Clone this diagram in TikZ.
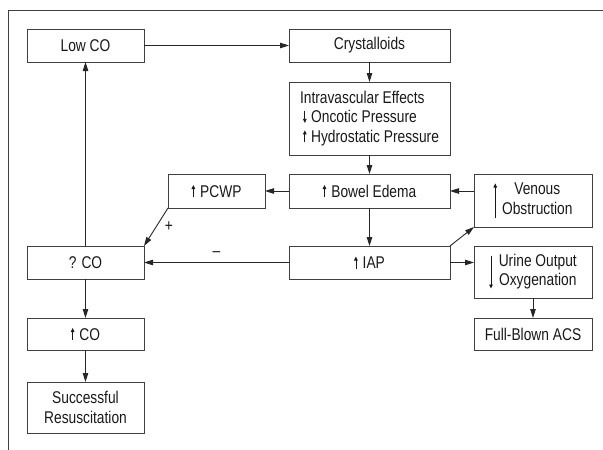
\documentclass[tikz,border=0pt]{standalone}
\usepackage{fontspec}
\setmainfont{Liberation Sans}[FakeStretch=0.81]
\usetikzlibrary{arrows.meta,positioning}

% small arrows set inside the box texts
\newcommand{\incr}{\tikz[baseline=0pt]\draw[line width=0.8pt,-{Triangle[length=4pt,width=3.6pt]}] (0,0) -- (0,12pt);}
\newcommand{\decr}{\tikz[baseline=0pt]\draw[line width=0.8pt,-{Triangle[length=4pt,width=3.6pt]}] (0,12pt) -- (0,0);}
\newcommand{\tallup}{$\vcenter{\hbox{\tikz\draw[line width=0.8pt,-{Triangle[length=4pt,width=3.6pt]}] (0,0) -- (0,34pt);}}$}
\newcommand{\talldown}{$\vcenter{\hbox{\tikz\draw[line width=0.8pt,-{Triangle[length=4pt,width=3.6pt]}] (0,33pt) -- (0,0);}}$}
\newcommand{\twolines}[1]{$\vcenter{\hbox{\begin{tabular}{@{}c@{}}#1\end{tabular}}}$}

\begin{document}
\begin{tikzpicture}[
  x=1pt, y=-1pt,
  font=\fontsize{17}{19.5}\selectfont,
  text=black!90,
  flow/.style={-{Triangle[length=9pt,width=5.5pt]}, line width=0.9pt, draw=black!85},
  box/.style={draw=black!75, line width=0.9pt, align=center,
              inner sep=0pt, outer sep=0pt, minimum height=33pt},
  leftcol/.style={box, minimum width=117pt},
  midcol/.style={box, minimum width=161pt},
  rightcol/.style={box, minimum width=118pt},
  frame/.style={draw=black!75, line width=0.9pt}
]
\useasboundingbox (0,0) rectangle (603,450);
\draw[frame] (8.3,450) -- (8.3,10.7) -- (603,10.7);

% Resuscitation start and fluid load.
\node[leftcol] (lowco) at (85.5,45.5) {Low CO};
\node[midcol, right=145pt of lowco] (cryst) {Crystalloids};
\node[midcol, minimum height=73pt, below=20pt of cryst, align=left] (intra)
  {Intravascular Effects\\
   \hspace*{3pt}\decr\hspace{4.5pt}Oncotic Pressure\\
   \hspace*{3pt}\incr\hspace{4.5pt}Hydrostatic Pressure};
\node[midcol, minimum height=34pt, below=19pt of intra] (edema)
  {\incr\hspace{5pt}Bowel Edema};
\node[box, minimum width=97pt, minimum height=34pt, left=24pt of edema] (pcwp)
  {\incr\hspace{5pt}PCWP};
\node[rightcol, minimum height=53pt, right=24pt of edema.north east,
      anchor=north west] (venous)
  {\tallup\hspace{5pt}\twolines{Venous\\Obstruction}};

% Pressure stage.
\node[midcol, below=38pt of edema] (iap) {\incr\hspace{5pt}IAP};
\node[leftcol, left=145pt of iap] (qco) {? CO};
\node[rightcol, minimum height=52pt, right=24pt of iap.north east,
      anchor=north west] (urine)
  {\talldown\hspace{6pt}\twolines{Urine Output\\Oxygenation}};
\node[rightcol, minimum height=32pt, below=20pt of urine] (fullacs) {Full-Blown ACS};
\node[leftcol, minimum height=32pt, below=39pt of qco] (upco) {\incr\hspace{5pt}CO};
\node[leftcol, minimum height=51pt, below=32pt of upco] (success)
  {Successful\\Resuscitation};

% Connectors.
\draw[flow] (lowco) -- (cryst);
\draw[flow] (cryst) -- (intra);
\draw[flow] (intra) -- (edema);
\draw[flow] (edema) -- (pcwp);
\draw[flow] (venous.west |- edema.east) -- (edema.east);
\draw[flow] (edema) -- (iap);
\draw[flow] (pcwp.south west) -- node[right=5pt] {+} (qco.north east);
\draw[flow] (iap) -- node[yshift=8pt] {--} (qco);
\draw[flow] (iap.north east) -- (venous.south west);
\draw[flow] (iap.east) -- (urine.west |- iap.east);
\draw[flow] (urine) -- (fullacs);
\draw[flow] (qco) -- (lowco);
\draw[flow] (qco) -- (upco);
\draw[flow] (upco) -- (success);

\end{tikzpicture}
\end{document}
